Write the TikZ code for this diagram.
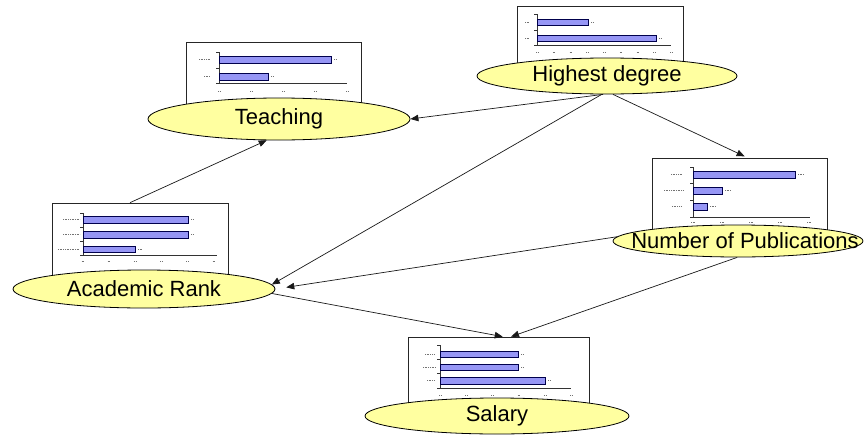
\documentclass[tikz,border=0pt]{standalone}
\usepackage{fontspec}
\setmainfont{Liberation Sans}
\usetikzlibrary{shapes.geometric,arrows.meta}
\definecolor{ellfill}{RGB}{255,255,160}
\definecolor{barfill}{RGB}{150,150,245}
\tikzset{
  chartbox/.style={draw=black!85, fill=white, line width=0.7pt, inner sep=0pt},
  barstyle/.style={draw=black!70!blue, fill=barfill, line width=0.6pt},
  axis/.style={draw=black!80, line width=0.5pt},
  mini/.style={draw=black!55, line width=0.9pt, dash pattern=on 0.8pt off 0.9pt},
  ell/.style={ellipse, draw=black, line width=0.8pt, fill=ellfill, inner sep=0pt, font=\fontsize{22}{26}\selectfont},
  lbl/.style={inner sep=0pt, font=\fontsize{22}{26}\selectfont},
  conn/.style={draw=black!90, line width=0.7pt, -{Triangle[length=8pt,width=6.5pt]}},
}
\begin{document}
\begin{tikzpicture}[x=1pt,y=-1pt]
\useasboundingbox (0,0) rectangle (865,434);
\fill[white] (0,0) rectangle (865,434);

% ---------- chart boxes ----------
\node[chartbox, minimum width=175pt, minimum height=73pt] (teachbox) at (273.5,78.5) {};
\node[chartbox, minimum width=166pt, minimum height=66pt] (hdbox) at (600,39) {};
\node[chartbox, minimum width=175pt, minimum height=80pt] (nopbox) at (739.5,198) {};
\node[chartbox, minimum width=176pt, minimum height=79pt] (arbox) at (140,242.5) {};
\node[chartbox, minimum width=181pt, minimum height=68pt] (salbox) at (498.5,371) {};

% ---------- Teaching chart ----------
\draw[axis] (219,52) -- (219,83) -- (347,83);
\foreach \y in {52,68,83} \draw[axis] (216,\y) -- (219,\y);
\foreach \x in {219,251,283,315,347} \draw[mini] (\x-1,91) -- (\x+1,91);
\draw[barstyle] (219,56) rectangle (331,63);
\draw[barstyle] (219,73) rectangle (268,80);
\draw[mini] (199,59.5) -- (210,59.5);
\draw[mini] (204,76.5) -- (210,76.5);
\draw[mini] (334,59.5) -- (337,59.5);
\draw[mini] (271,76.5) -- (274,76.5);

% ---------- Highest degree chart ----------
\draw[axis] (537,14) -- (537,45) -- (671,45);
\foreach \y in {14,30,45} \draw[axis] (534,\y) -- (537,\y);
\foreach \i in {0,...,8} \draw[mini] (537+16.75*\i-1,52) -- (537+16.75*\i+1,52);
\draw[barstyle] (537,19.5) rectangle (588,25.5);
\draw[barstyle] (537,35) rectangle (656,41);
\draw[mini] (525,22.5) -- (530,22.5);
\draw[mini] (525,38) -- (530,38);
\draw[mini] (591,22.5) -- (594,22.5);
\draw[mini] (659,38) -- (662,38);

% ---------- Number of Publications chart ----------
\draw[axis] (693,167) -- (693,217) -- (810,217);
\foreach \y in {167,183,200,217} \draw[axis] (690,\y) -- (693,\y);
\foreach \x in {693,722,751,780,809} \draw[mini] (\x-2,222) -- (\x+2,222);
\draw[barstyle] (693,171) rectangle (795,178);
\draw[barstyle] (693,187) rectangle (722,194);
\draw[barstyle] (693,203) rectangle (707,210);
\draw[mini] (671,174.5) -- (682,174.5);
\draw[mini] (664,190.5) -- (683,190.5);
\draw[mini] (672,206.5) -- (682,206.5);
\draw[mini] (798,174.5) -- (804,174.5);
\draw[mini] (725,190.5) -- (731,190.5);
\draw[mini] (710,206.5) -- (716,206.5);

% ---------- Academic Rank chart ----------
\draw[axis] (83,213) -- (83,255) -- (217,255);
\foreach \y in {213,227,241,255} \draw[axis] (80,\y) -- (83,\y);
\foreach \i in {0,...,5} \draw[mini] (83+26.2*\i-1.5,261) -- (83+26.2*\i+1.5,261);
\draw[barstyle] (83,216) rectangle (188,223);
\draw[barstyle] (83,231) rectangle (188,238);
\draw[barstyle] (83,246) rectangle (135,252);
\draw[mini] (63,219.5) -- (80,219.5);
\draw[mini] (63,234.5) -- (80,234.5);
\draw[mini] (58,249) -- (80,249);
\draw[mini] (191,219.5) -- (194,219.5);
\draw[mini] (191,234.5) -- (194,234.5);
\draw[mini] (138,249) -- (142,249);

% ---------- Salary chart ----------
\draw[axis] (440,345) -- (440,388) -- (571,388);
\foreach \y in {345,359,373,388} \draw[axis] (437,\y) -- (440,\y);
\foreach \i in {0,...,5} \draw[mini] (440+26.2*\i-1,395) -- (440+26.2*\i+1,395);
\draw[barstyle] (440,351) rectangle (518,357);
\draw[barstyle] (440,364) rectangle (518,370);
\draw[barstyle] (440,377) rectangle (545,384);
\draw[mini] (425,354) -- (435,354);
\draw[mini] (423,367) -- (436,367);
\draw[mini] (427,380.5) -- (435,380.5);
\draw[mini] (521,354) -- (524,354);
\draw[mini] (521,367) -- (524,367);
\draw[mini] (548,380.5) -- (551,380.5);

% ---------- ellipses ----------
\node[ell, minimum width=262pt, minimum height=42pt] (teach) at (279,119) {Teaching};
\node[ell, minimum width=260pt, minimum height=36pt] (hd) at (607,76) {Highest degree};
\node[ell, minimum width=250pt, minimum height=32pt] (nop) at (738,241) {};
\node[lbl] (noplbl) at (745,241) {Number of Publications};
\node[ell, minimum width=262pt, minimum height=38pt] (ar) at (144,289) {Academic Rank};
\node[ell, minimum width=264pt, minimum height=36pt] (sal) at (497,416) {Salary};

% ---------- connectors ----------
\draw[conn] (hd.-102) -- (teach.east);
\draw[conn] (hd.-106) -- (ar.2);
\draw[conn, shorten >=3pt] (hd.-72) -- (nopbox.79);
\draw[conn, shorten >=11pt] (nop.178) -- (ar.east);
\draw[conn] (arbox.104) -- (teach.-120);
\draw[conn] (ar.-2) -- (salbox.83);
\draw[conn] (nop.-93) -- (salbox.70);
\end{tikzpicture}
\end{document}
